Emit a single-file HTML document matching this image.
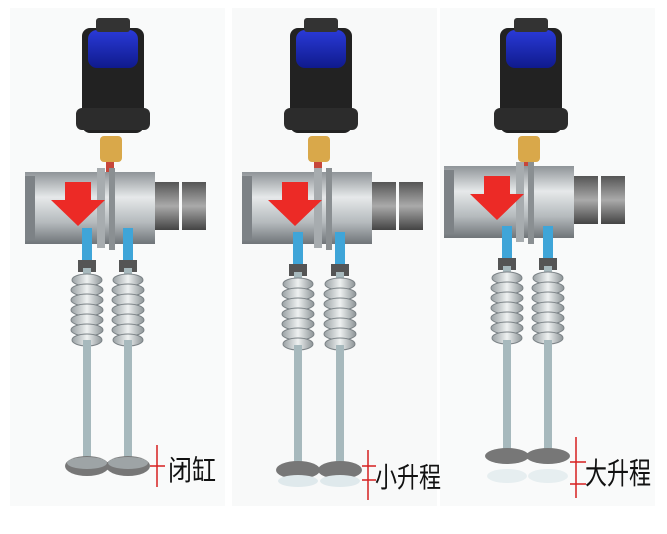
<!DOCTYPE html>
<html><head><meta charset="utf-8"><style>
html,body{margin:0;padding:0;background:#fff}
svg{display:block}
text{font-family:"Liberation Sans","Noto Sans CJK SC",sans-serif}
</style></head><body>
<svg width="667" height="534" viewBox="0 0 667 534" xmlns="http://www.w3.org/2000/svg">
<defs>
<linearGradient id="cyl" x1="0" y1="0" x2="0" y2="1">
<stop offset="0" stop-color="#8f9498"/><stop offset="0.35" stop-color="#e6e9ea"/><stop offset="0.7" stop-color="#b5babd"/><stop offset="1" stop-color="#6f7478"/></linearGradient>
<linearGradient id="gear" x1="0" y1="0" x2="0" y2="1">
<stop offset="0" stop-color="#555"/><stop offset="0.5" stop-color="#aaa"/><stop offset="1" stop-color="#444"/></linearGradient>
<linearGradient id="blue" x1="0" y1="0" x2="0" y2="1">
<stop offset="0" stop-color="#2a3ad8"/><stop offset="1" stop-color="#0f1a8c"/></linearGradient>
<linearGradient id="spr" x1="0" y1="0" x2="1" y2="0">
<stop offset="0" stop-color="#9aa1a4"/><stop offset="0.5" stop-color="#eef1f1"/><stop offset="1" stop-color="#8d9497"/></linearGradient>
<g id="top">
 <rect x="0" y="10" width="62" height="105" rx="8" fill="#222"/>
 <rect x="-6" y="90" width="74" height="22" rx="6" fill="#2c2c2c"/>
 <rect x="6" y="12" width="50" height="38" rx="9" fill="url(#blue)"/>
 <rect x="14" y="0" width="34" height="14" rx="3" fill="#333"/>
 <rect x="18" y="118" width="22" height="26" rx="4" fill="#d9a84a"/>
 <rect x="24" y="144" width="8" height="18" fill="#c7463a"/>
</g>
<g id="shaft">
 <rect x="0" y="0" width="130" height="72" fill="url(#cyl)"/>
 <rect x="0" y="4" width="10" height="64" fill="#7d8286"/>
 <rect x="72" y="-4" width="8" height="80" fill="#a7acaf"/>
 <rect x="84" y="-4" width="6" height="82" fill="#8a8f92"/>
 <rect x="130" y="10" width="24" height="48" fill="url(#gear)"/>
 <rect x="157" y="10" width="24" height="48" fill="url(#gear)"/>
 <path d="M40 10h26v18h14l-27 26l-27-26h14z" fill="#ec2a26"/>
</g>
<g id="valve">
 <rect x="-5" y="0" width="10" height="40" fill="#3fa5d8"/>
 <rect x="-9" y="32" width="18" height="12" fill="#555"/>
 <rect x="-4" y="40" width="8" height="180" fill="#a7b9bd"/>
 <g fill="url(#spr)" stroke="#7c8387" stroke-width="1">
  <ellipse cx="0" cy="52" rx="15" ry="6"/><ellipse cx="0" cy="62" rx="16" ry="6"/>
  <ellipse cx="0" cy="72" rx="16" ry="6"/><ellipse cx="0" cy="82" rx="16" ry="6"/>
  <ellipse cx="0" cy="92" rx="16" ry="6"/><ellipse cx="0" cy="102" rx="16" ry="6"/>
  <ellipse cx="0" cy="112" rx="15" ry="6"/></g>
</g>
</defs>
<rect x="10" y="8" width="215" height="498" fill="#f9fafa"/>
<rect x="232" y="8" width="205" height="498" fill="#f8f9f9"/>
<rect x="440" y="8" width="215" height="498" fill="#f9fafa"/>

<!-- panel 1 -->
<use href="#top" x="82" y="18"/>
<use href="#shaft" x="25" y="172"/>
<use href="#valve" x="87" y="228"/>
<use href="#valve" x="128" y="228"/>
<rect x="83" y="340" width="8" height="118" fill="#a7b9bd"/><rect x="124" y="340" width="8" height="118" fill="#a7b9bd"/>
<ellipse cx="87" cy="466" rx="22" ry="10" fill="#777"/><ellipse cx="128" cy="466" rx="22" ry="10" fill="#777"/>
<ellipse cx="87" cy="463" rx="20" ry="6" fill="#9ea4a6"/><ellipse cx="128" cy="463" rx="20" ry="6" fill="#9ea4a6"/>
<g stroke="#d62020" stroke-width="1.5"><line x1="157" y1="445" x2="157" y2="487"/><line x1="150" y1="466" x2="165" y2="466"/></g>
<text x="168" y="480" font-size="28" fill="#111" textLength="48" lengthAdjust="spacingAndGlyphs">闭缸</text>

<!-- panel 2 -->
<use href="#top" x="290" y="18"/>
<use href="#shaft" x="242" y="172"/>
<use href="#valve" x="298" y="232"/>
<use href="#valve" x="340" y="232"/>
<rect x="294" y="345" width="8" height="120" fill="#a7b9bd"/><rect x="336" y="345" width="8" height="120" fill="#a7b9bd"/>
<ellipse cx="298" cy="470" rx="22" ry="9" fill="#777"/><ellipse cx="340" cy="470" rx="22" ry="9" fill="#777"/>
<ellipse cx="298" cy="481" rx="20" ry="6" fill="#dfe9ec"/><ellipse cx="340" cy="481" rx="20" ry="6" fill="#dfe9ec"/>
<g stroke="#d62020" stroke-width="1.5"><line x1="368" y1="450" x2="368" y2="500"/><line x1="362" y1="466" x2="376" y2="466"/><line x1="362" y1="480" x2="376" y2="480"/></g>
<text x="375" y="487" font-size="28" fill="#111" textLength="66" lengthAdjust="spacingAndGlyphs">小升程</text>

<!-- panel 3 -->
<use href="#top" x="500" y="18"/>
<use href="#shaft" x="444" y="166"/>
<use href="#valve" x="507" y="226"/>
<use href="#valve" x="548" y="226"/>
<rect x="503" y="340" width="8" height="112" fill="#a7b9bd"/><rect x="544" y="340" width="8" height="112" fill="#a7b9bd"/>
<ellipse cx="507" cy="456" rx="22" ry="8" fill="#777"/><ellipse cx="548" cy="456" rx="22" ry="8" fill="#777"/>
<ellipse cx="507" cy="476" rx="20" ry="7" fill="#e6eef0"/><ellipse cx="548" cy="476" rx="20" ry="7" fill="#e6eef0"/>
<g stroke="#d62020" stroke-width="1.5"><line x1="576" y1="437" x2="576" y2="498"/><line x1="570" y1="462" x2="586" y2="462"/><line x1="570" y1="484" x2="586" y2="484"/></g>
<text x="585" y="484" font-size="30" fill="#111" textLength="66" lengthAdjust="spacingAndGlyphs">大升程</text>
</svg>
</body></html>
